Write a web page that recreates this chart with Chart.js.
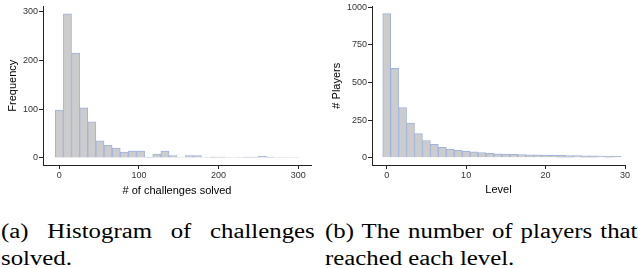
<!DOCTYPE html>
<html lang="en">
    <head>
        <meta charset="UTF-8">
        <title>Challenges solved and levels reached</title>
        <script src="https://cdn.jsdelivr.net/npm/chart.js"></script>
        <style>
            body {
                margin: 0;
                background: #fff;
                width: 638px;
                height: 268px;
                position: relative;
                overflow: hidden;
            }
            canvas {
                position: absolute;
                top: 0;
            }
            #chartA { left: 0; }
            #chartB { left: 318px; }
            .cap {
                position: absolute;
                top: 218px;
                font-family: "Liberation Serif", "Times New Roman", serif;
                font-size: 20px;
                line-height: 27px;
                color: #000;
                transform: scaleX(1.24);
                transform-origin: 0 0;
            }
            .cap .l1 {
                text-align: justify;
                text-align-last: justify;
            }
            #capA { left: 1px; width: 253px; }
            #capB { left: 325px; width: 252px; }
        </style>
    </head>
    <body>
        <canvas id="chartA" width="318" height="200"></canvas>
        <canvas id="chartB" width="320" height="200"></canvas>

        <div class="cap" id="capA">
            <div class="l1">(a) Histogram of challenges</div>
            <div>solved.</div>
        </div>
        <div class="cap" id="capB">
            <div class="l1">(b) The number of players that</div>
            <div>reached each level.</div>
        </div>

        <script>
            // (a) histogram of challenges solved, 30 bins
            const binCenters = [0, 10.2, 20.4, 30.6, 40.8, 51, 61.2, 71.4, 81.6, 91.8,
                102, 112.2, 122.4, 132.6, 142.8, 153, 163.2, 173.4, 183.6, 193.8,
                204, 214.2, 224.4, 234.6, 244.8, 255, 265.2, 275.4, 285.6, 295.8];
            const binCounts = [98, 296, 215, 103, 74, 35, 26, 20, 12, 14,
                14, 2, 8, 14, 5, 1, 5, 5, 1, 2,
                2, 1, 1, 2, 2, 4, 2, 1, 1, 1];
            const ticksAX = [0, 100, 200, 300];
            const ticksAY = [0, 100, 200, 300];

            // (b) players per level
            const levels = [0, 1, 2, 3, 4, 5, 6, 7, 8, 9,
                10, 11, 12, 13, 14, 15, 16, 17, 18, 19,
                20, 21, 22, 23, 24, 25, 26, 27, 28, 29];
            const players = [958, 594, 334, 230, 160, 115, 89, 69, 56, 50,
                43, 39, 35, 30, 27, 25, 23, 22, 20, 19,
                18, 17, 16, 15, 14, 13, 13, 12, 11, 10];
            const ticksBX = [0, 10, 20, 30];
            const ticksBY = [0, 250, 500, 750, 1000];

            const fillColor = '#cccccc';
            const edgeColor = 'rgb(160, 178, 222)';
            const axisColor = '#222';
            const sans = '"Liberation Sans", Arial, sans-serif';

            function axis(min, max, ticks, title, titlePad, size) {
                return {
                    type: 'linear',
                    min: min,
                    max: max,
                    offset: false,
                    afterBuildTicks: s => { s.ticks = ticks.map(v => ({ value: v })); },
                    afterFit: s => {
                        if (s.isHorizontal()) s.height = size; else s.width = size;
                    },
                    grid: { offset: false, drawOnChartArea: false, drawTicks: true, tickLength: 4, color: axisColor },
                    border: { display: true, color: axisColor, width: 1 },
                    ticks: {
                        padding: 1,
                        color: '#333',
                        font: { family: sans, size: 9 },
                        maxRotation: 0,
                        autoSkip: false,
                        callback: v => String(v)
                    },
                    title: {
                        display: true,
                        text: title,
                        color: '#000',
                        font: { family: sans, size: 11 },
                        padding: titlePad
                    }
                };
            }

            function makeChart(id, xs, ys, xScale, yScale, pad) {
                new Chart(document.getElementById(id), {
                    type: 'bar',
                    data: {
                        datasets: [{
                            data: xs.map((x, i) => ({ x: x, y: ys[i] })),
                            backgroundColor: fillColor,
                            borderColor: edgeColor,
                            borderWidth: 1,
                            barPercentage: 1,
                            categoryPercentage: 1
                        }]
                    },
                    options: {
                        responsive: false,
                        animation: false,
                        devicePixelRatio: 1,
                        layout: { padding: pad },
                        plugins: { legend: { display: false }, tooltip: { enabled: false } },
                        scales: { x: xScale, y: yScale }
                    }
                });
            }

            makeChart('chartA', binCenters, binCounts,
                axis(-20.5, 316, ticksAX, '# of challenges solved', { top: 0, bottom: 2.5 }, 35),
                axis(-14.5, 311, ticksAY, 'Frequency', { top: 6.5, bottom: 0 }, 43),
                { left: 0, right: 7, top: 3, bottom: 0 });

            makeChart('chartB', levels, players,
                axis(-1.85, 30, ticksBX, 'Level', { top: 0, bottom: 3.5 }, 35),
                axis(-48, 1006, ticksBY, '# Players', { top: 12.5, bottom: 0 }, 54),
                { left: 0, right: 13, top: 3, bottom: 0 });
        </script>
    </body>
</html>
